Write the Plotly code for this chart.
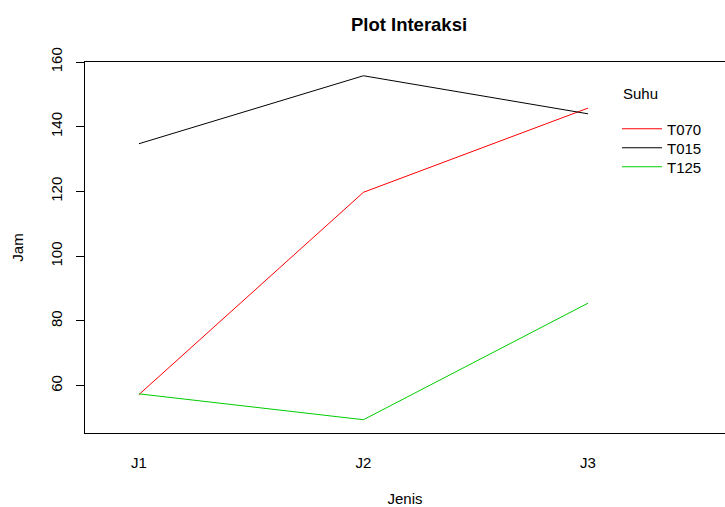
import plotly.graph_objects as go

jenis = ["J1", "J2", "J3"]
series_names = ["T070", "T015", "T125"]
t070 = [57.25, 119.75, 145.75]
t015 = [134.75, 155.75, 144.00]
t125 = [57.50, 49.50, 85.50]
colors = ["#FF0000", "#000000", "#00CD00"]
y_ticks = [60, 80, 100, 120, 140, 160]

W, H = 725, 507
L, R, T, B = 85, 0, 62, 74  # plot area pixel margins
PW, PH = W - L - R, H - T - B

legend_ids = ["legend", "legend2", "legend3"]
legend_rows = [129, 148, 167]  # pixel centres of the legend rows

xpos = [1, 2, 3]
fig = go.Figure()
for name, vals, col, lg in zip(series_names, [t070, t015, t125], colors, legend_ids):
    fig.add_trace(go.Scatter(x=xpos, y=vals, mode="lines", name=name, legend=lg,
                             line=dict(color=col, width=1)))

font = "Liberation Sans, Arial, sans-serif"
fs = 15

legend_style = dict(x=(617 - L) / PW, xanchor="left", yanchor="middle",
                    bgcolor="rgba(0,0,0,0)", font=dict(size=fs),
                    itemwidth=40)
legends = {lg: dict(legend_style, y=1 - (row - T) / PH)
           for lg, row in zip(legend_ids, legend_rows)}

fig.update_layout(
    width=W, height=H,
    margin=dict(l=L, r=R, t=T, b=B),
    plot_bgcolor="white", paper_bgcolor="white",
    font=dict(family=font, size=fs, color="black"),
    title=dict(text="<b>Plot Interaksi</b>", x=409 / W, xref="container", xanchor="center",
               y=1 - 25 / H, yref="container", yanchor="middle",
               font=dict(size=18.5, family=font)),
    xaxis=dict(range=[0.76, 1 + (W - L - 54) / 224.5], tickvals=xpos, ticktext=jenis,
               showgrid=False, zeroline=False, showline=True, mirror=True,
               linecolor="black", linewidth=1, ticks="", ticklabelstandoff=16,
               tickfont=dict(size=fs),
               title=dict(text="Jenis", standoff=24, font=dict(size=fs))),
    yaxis=dict(range=[45.4, 160], tickvals=y_ticks, showgrid=False, zeroline=False,
               showline=True, mirror=False, linecolor="black", linewidth=1,
               ticks="outside", ticklen=8, tickcolor="black", tickangle=-90,
               ticklabelstandoff=8, tickfont=dict(size=fs),
               title=dict(text="Jam", standoff=20, font=dict(size=fs))),
    showlegend=True,
    annotations=[dict(text="Suhu", xref="paper", yref="paper",
                      x=(621 - L) / PW, y=1 - (93 - T) / PH,
                      xanchor="left", yanchor="middle", showarrow=False,
                      font=dict(size=fs, family=font))],
    **legends,
)
fig.write_html("out.html")
